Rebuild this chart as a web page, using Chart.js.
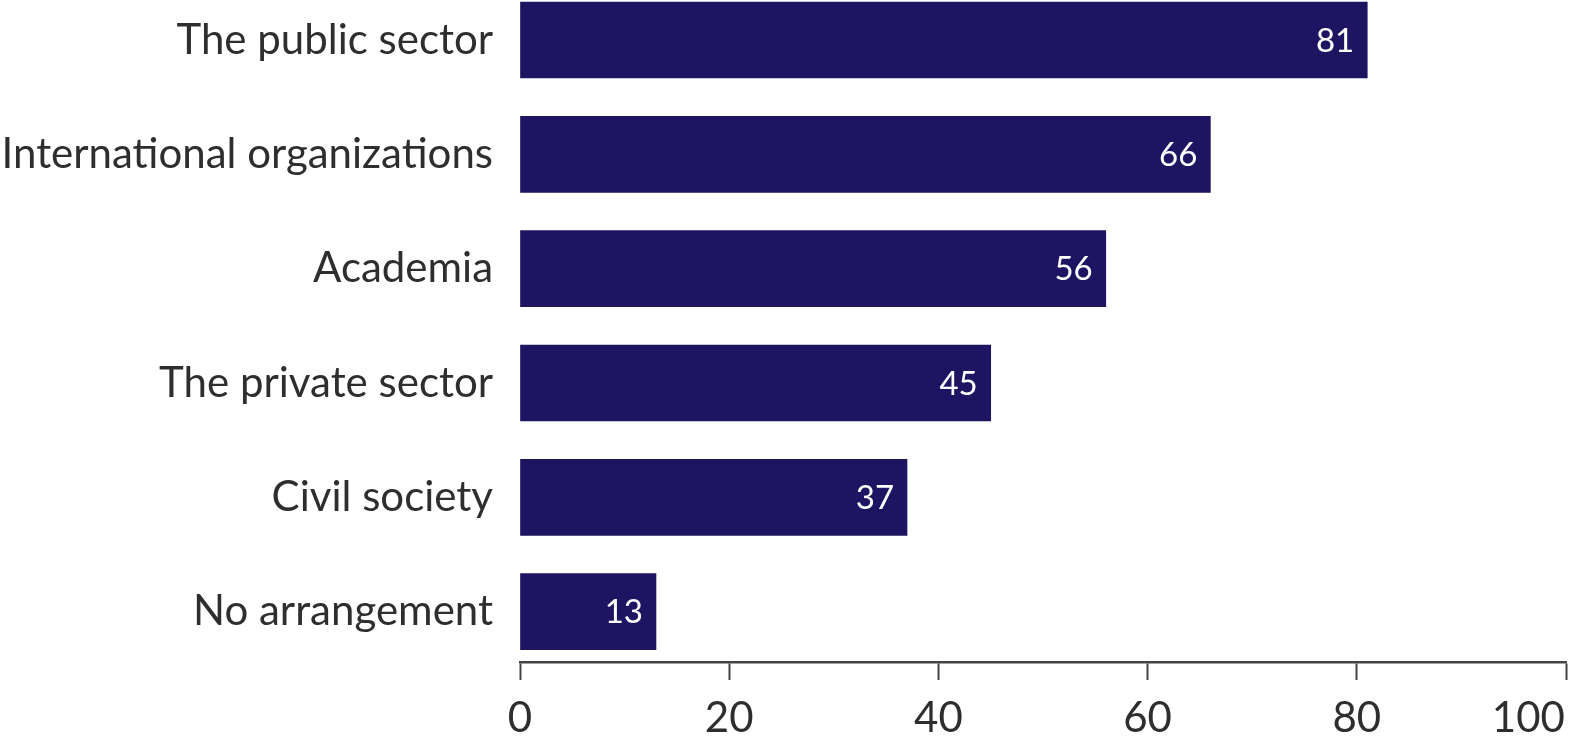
<!DOCTYPE html>
<html>
<head>
<meta charset="utf-8">
<script src="https://cdn.jsdelivr.net/npm/chart.js@4"></script>
<style>
  html, body { margin: 0; padding: 0; background: #ffffff; }
  #wrap { width: 1570px; height: 744px; position: relative; }
</style>
</head>
<body>
<div id="wrap"><canvas id="chart"></canvas></div>
<script>
// Share of respondents by type of partner arrangement (%)
const categories = [
  'The public sector',
  'International organizations',
  'Academia',
  'The private sector',
  'Civil society',
  'No arrangement'
];
const shares = [81, 66, 56, 45, 37, 13];
const xTicks = [0, 20, 40, 60, 80, 100];

const BAR_COLOR = '#1d1561';
const TEXT_COLOR = '#2e2e2e';

// Row axis runs slightly past the first and last rows
const ROW_MIN = -0.35;
const ROW_MAX = 5.44;

// Writes each bar's value in white just inside its right end
const valueLabels = {
  id: 'valueLabels',
  afterDatasetsDraw(chart) {
    const ctx = chart.ctx;
    const meta = chart.getDatasetMeta(0);
    ctx.save();
    ctx.font = '33px Lato';
    ctx.fillStyle = '#ffffff';
    ctx.textAlign = 'right';
    ctx.textBaseline = 'middle';
    meta.data.forEach((bar, i) => {
      ctx.fillText(String(shares[i]), bar.x - 13, bar.y + 1);
    });
    ctx.restore();
  }
};

new Chart(document.getElementById('chart'), {
  type: 'bar',
  data: {
    datasets: [{
      data: shares.map((v, i) => ({ x: v, y: i })),
      backgroundColor: BAR_COLOR,
      borderWidth: 0,
      barThickness: 76
    }]
  },
  options: {
    indexAxis: 'y',
    responsive: true,
    maintainAspectRatio: false,
    animation: false,
    layout: { padding: { left: 0, right: 4, top: 0, bottom: 0 } },
    plugins: {
      legend: { display: false },
      tooltip: { enabled: false }
    },
    scales: {
      y: {
        type: 'linear',
        reverse: true,
        offset: false,
        bounds: 'data',
        min: ROW_MIN,
        max: ROW_MAX,
        grid: { display: false, offset: false },
        border: { display: false },
        afterDataLimits(scale) {
          scale.min = ROW_MIN;
          scale.max = ROW_MAX;
        },
        afterBuildTicks(scale) {
          scale.ticks = categories.map((c, i) => ({ value: i }));
          scale.min = ROW_MIN;
          scale.max = ROW_MAX;
        },
        afterFit(scale) {
          scale.width = 520;
          scale.paddingTop = 0;
          scale.paddingBottom = 0;
        },
        ticks: {
          padding: 19,
          color: TEXT_COLOR,
          font: { family: 'Lato', size: 42 },
          callback: (v) => categories[v]
        }
      },
      x: {
        type: 'linear',
        min: 0,
        max: 100,
        grid: {
          drawOnChartArea: false,
          drawTicks: true,
          tickLength: 18,
          tickWidth: 2,
          tickColor: '#444444'
        },
        border: { display: true, color: '#444444', width: 2.5 },
        afterBuildTicks(scale) {
          scale.ticks = xTicks.map(v => ({ value: v }));
        },
        afterFit(scale) {
          scale.height = 82;
          scale.paddingLeft = 0;
          scale.paddingRight = 0;
        },
        ticks: {
          padding: 13,
          maxRotation: 0,
          color: TEXT_COLOR,
          font: { family: 'Lato', size: 42 },
          // the end label is nudged left so it stays mostly on the canvas
          callback: (v) => (v === xTicks[xTicks.length - 1] ? v + '       ' : String(v))
        }
      }
    }
  },
  plugins: [valueLabels]
});
</script>
</body>
</html>
